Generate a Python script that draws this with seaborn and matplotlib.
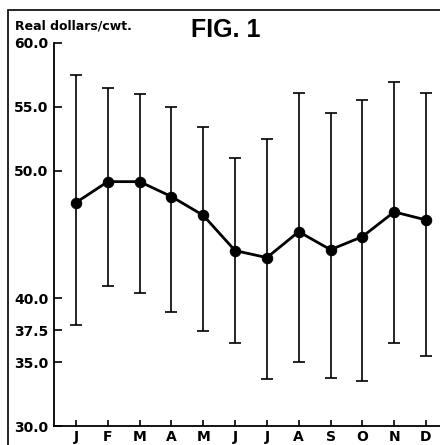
import matplotlib
matplotlib.use("Agg")
import matplotlib.pyplot as plt
import seaborn as sns
import pandas as pd
from matplotlib.patches import Rectangle

months = ["J", "F", "M", "A", "M", "J", "J", "A", "S", "O", "N", "D"]
mean_price = [47.5, 49.14, 49.14, 47.97, 46.5, 43.74, 43.19, 45.22, 43.81, 44.83, 46.77, 46.14]
upper = [57.49, 56.50, 56.03, 54.99, 53.45, 50.97, 52.48, 56.06, 54.54, 55.51, 56.97, 56.06]
lower = [37.92, 40.97, 40.40, 38.96, 37.45, 36.51, 33.69, 35.02, 33.79, 33.56, 36.53, 35.51]
y_ticks = [30.0, 35.0, 37.5, 40.0, 50.0, 55.0, 60.0]
y_tick_labels = ["30.0", "35.0", "37.5", "40.0", "50.0", "55.0", "60.0"]

sns.set_theme(style="white")
plt.rcParams["font.family"] = ["DejaVu Sans"]

df = pd.DataFrame({"pos": range(len(months)), "price": mean_price,
                   "upper": upper, "lower": lower})

fig = plt.figure(figsize=(4.4, 4.45), dpi=100)
ax = fig.add_axes([54 / 440, 19 / 445, 386 / 440, 383 / 445])

yerr = [df["price"] - df["lower"], df["upper"] - df["price"]]
ax.errorbar(df["pos"], df["price"], yerr=yerr, fmt="none", ecolor="black",
            elinewidth=1.2, capsize=4.5, capthick=1.2, zorder=2)
sns.lineplot(data=df, x="pos", y="price", ax=ax, color="black", linewidth=2.0,
             marker="o", markersize=7.5, markeredgecolor="black",
             markerfacecolor="black", zorder=3)

ax.set_xlim(-0.69, 11.44)
ax.set_ylim(30, 60)
ax.set_xticks(range(len(months)))
ax.set_xticklabels(months, fontsize=10, fontweight="bold")
ax.set_yticks(y_ticks)
ax.set_yticklabels(y_tick_labels, fontsize=10, fontweight="bold")
ax.set_xlabel("")
ax.set_ylabel("")
ax.tick_params(axis="y", direction="in", length=6, width=1.2, color="black", pad=4)
ax.tick_params(axis="x", direction="in", length=4, width=1.2, color="black", pad=3)
ax.tick_params(axis="both", which="both", left=True, bottom=True, labelcolor="black")
for s in ["top", "right"]:
    ax.spines[s].set_visible(False)
for s in ["left", "bottom"]:
    ax.spines[s].set_color("black")
    ax.spines[s].set_linewidth(1.3)
ax.grid(False)

fig.text(15 / 440, 1 - 26 / 445, "Real dollars/cwt.", fontsize=9, color="black",
         fontweight="bold", ha="left", va="center", family=["DejaVu Sans"])
fig.text(226 / 440, 1 - 30 / 445, "FIG. 1", fontsize=18, fontweight="bold",
         color="black", ha="center", va="center", family=["Liberation Sans"])

fig.patches.append(Rectangle((7.5 / 440, -0.1), 1.2, (445 - 10) / 445 + 0.1,
                             transform=fig.transFigure, fill=False,
                             edgecolor="black", linewidth=1.2))

fig.savefig("out.png", dpi=100)
